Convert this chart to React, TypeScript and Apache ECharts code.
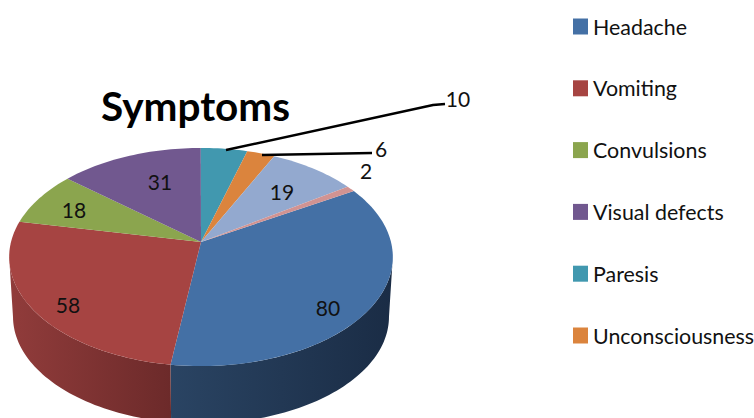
import React, { useEffect, useRef } from "react";
import * as echarts from "echarts";

const legendNames = ["Headache", "Vomiting", "Convulsions", "Visual defects", "Paresis", "Unconsciousness"];
const sliceNames = [...legendNames, "Slice 7", "Slice 8"];
const values = [80, 58, 18, 31, 10, 6, 19, 2];
const topColors = ["#4470a5", "#a64442", "#8ba54e", "#71588f", "#4198af", "#db843d", "#93a9cf", "#d19392"];
const sideStops: (string[] | null)[] = [["#2a4463", "#1a2c45"], ["#913c3b", "#6c2a2a"], null, null, null, null, null, null];

// Layout of the projected 3D disc
const HUB_X = 201, HUB_Y = 242, RX = 190, RY = 107, PERSP = 0.1376, DEPTH = 60, BOTTOM_SCALE = 0.98;
const START_DEG = 59.4;
const VIS_FROM = 97.9, VIS_TO = 262;
const labelPos: [number, number][] = [[328, 307], [68, 304], [74, 209], [160, 181], [458, 98], [381, 148], [282, 191], [366, 170]];
const leaders: ([number, number][] | null)[] = [null, null, null, null, [[226, 150], [433, 105], [445, 104]], [[262, 155], [372, 153]], null, null];

const total = values.reduce((a, b) => a + b, 0);
const project = (deg: number, dy = 0, s = 1): [number, number] => {
  const t = (deg * Math.PI) / 180;
  const d = 1 + PERSP * Math.cos(t);
  return [HUB_X + (s * RX * Math.sin(t)) / d, HUB_Y + dy - (s * RY * Math.cos(t)) / d];
};
const arc = (a: number, b: number, dy = 0, s = 1) => {
  const n = Math.max(2, Math.ceil(Math.abs(b - a) / 1.5));
  const pts: [number, number][] = [];
  for (let i = 0; i <= n; i++) pts.push(project(a + ((b - a) * i) / n, dy, s));
  return pts;
};

const sliceSeries = values.map((v, idx) => {
  const before = values.slice(0, idx).reduce((a, b) => a + b, 0);
  const a0 = START_DEG + (before / total) * 360;
  const a1 = a0 + (v / total) * 360;
  return {
    type: "custom",
    name: sliceNames[idx],
    coordinateSystem: "none",
    silent: true,
    itemStyle: { color: topColors[idx] },
    data: [v],
    renderItem: () => {
      const children: any[] = [];
      const stops = sideStops[idx];
      const f = Math.max(a0, VIS_FROM), t = Math.min(a1, VIS_TO);
      if (stops && f < t) {
        const pts = [...arc(f, t), ...arc(t, f, DEPTH, BOTTOM_SCALE)];
        children.push({
          type: "polygon",
          shape: { points: pts },
          style: {
            fill: {
              type: "linear", x: 0, y: 0, x2: 1, y2: 0,
              colorStops: [{ offset: 0, color: stops[0] }, { offset: 1, color: stops[1] }],
            },
          },
        });
      }
      children.push({
        type: "polygon",
        shape: { points: [[HUB_X, HUB_Y], ...arc(a0, a1)] },
        style: { fill: topColors[idx] },
      });
      const lead = leaders[idx];
      if (lead) {
        children.push({ type: "polyline", z2: 20, shape: { points: lead }, style: { stroke: "#000", lineWidth: 2.5, fill: null } });
      }
      children.push({
        type: "text",
        z2: 30,
        x: labelPos[idx][0],
        y: labelPos[idx][1],
        style: { text: String(v), font: "21px Lato", fill: "#111", textAlign: "center", textVerticalAlign: "middle" },
      });
      return { type: "group", children };
    },
  };
});

export default function App() {
  const ref = useRef<HTMLDivElement>(null);
  useEffect(() => {
    const chart = echarts.init(ref.current!, null, { renderer: "svg" });
    chart.setOption({
      animation: false,
      backgroundColor: "#fff",
      title: {
        text: "Symptoms",
        left: 101,
        top: 85,
        padding: 0,
        textStyle: { fontFamily: "Lato", fontWeight: "bold", fontSize: 40.5, color: "#000" },
      },
      legend: {
        data: legendNames,
        orient: "vertical",
        left: 568,
        top: 11,
        icon: "rect",
        itemWidth: 15,
        itemHeight: 16,
        itemGap: 40.8,
        selectedMode: false,
        textStyle: { fontFamily: "Lato", fontSize: 21.4, color: "#111", lineHeight: 16 },
      },
      series: sliceSeries,
    });
    return () => chart.dispose();
  }, []);
  return <div ref={ref} style={{ position: "absolute", left: 0, top: 0, width: 754, height: 418 }} />;
}
